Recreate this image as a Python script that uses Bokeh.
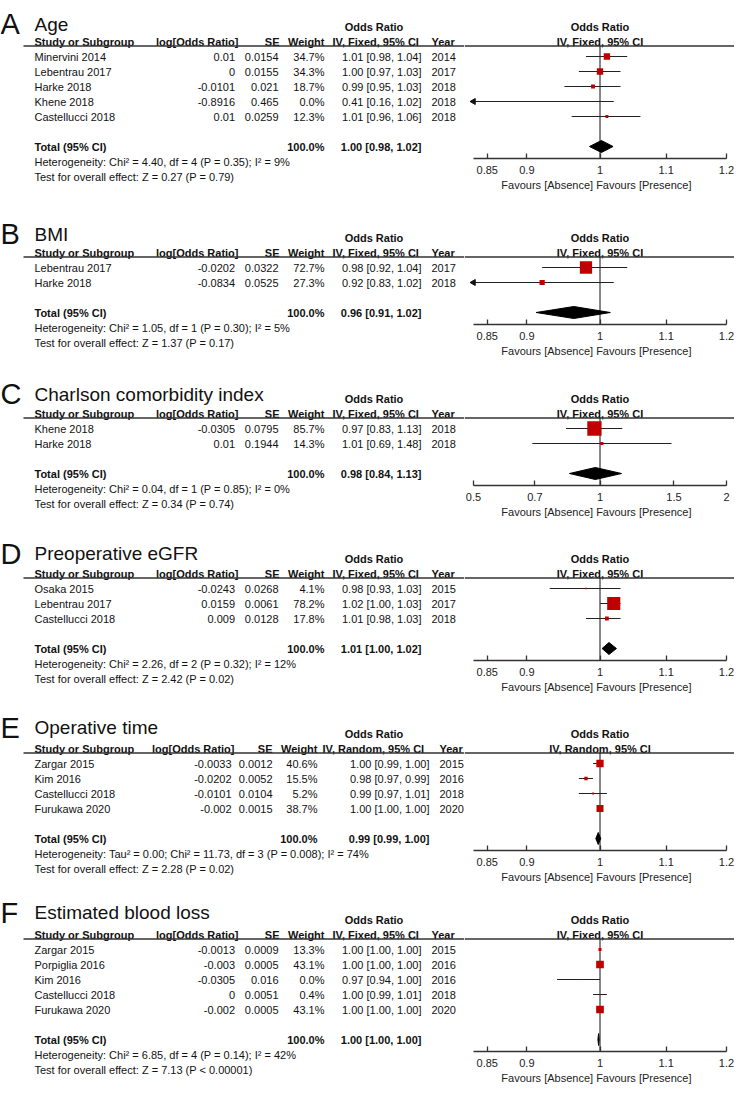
import math
from bokeh.plotting import figure
from bokeh.models import Range1d, FixedTicker, CustomJSTickFormatter
from bokeh.layouts import column, row
from bokeh.embed import file_html
from bokeh.resources import INLINE
from bokeh.core.properties import value

# ---------------- data ----------------
A_study = ["Minervini 2014", "Lebentrau 2017", "Harke 2018", "Khene 2018", "Castellucci 2018"]
A_log_or = [0.01, 0, -0.0101, -0.8916, 0.01]
A_se = [0.0154, 0.0155, 0.021, 0.465, 0.0259]
A_weight = [34.7, 34.3, 18.7, 0.0, 12.3]
A_or = [1.01, 1.00, 0.99, 0.41, 1.01]
A_lo = [0.98, 0.97, 0.95, 0.16, 0.96]
A_hi = [1.04, 1.03, 1.03, 1.02, 1.06]
A_year = [2014, 2017, 2018, 2018, 2018]
A_total = [1.00, 0.98, 1.02]
A_diamond = [1.002, 0.985, 1.019]
A_het = "Heterogeneity: Chi² = 4.40, df = 4 (P = 0.35); I² = 9%"
A_test = "Test for overall effect: Z = 0.27 (P = 0.79)"

B_study = ["Lebentrau 2017", "Harke 2018"]
B_log_or = [-0.0202, -0.0834]
B_se = [0.0322, 0.0525]
B_weight = [72.7, 27.3]
B_or = [0.98, 0.92]
B_lo = [0.92, 0.83]
B_hi = [1.04, 1.02]
B_year = [2017, 2018]
B_total = [0.96, 0.91, 1.02]
B_diamond = [0.963, 0.912, 1.015]
B_het = "Heterogeneity: Chi² = 1.05, df = 1 (P = 0.30); I² = 5%"
B_test = "Test for overall effect: Z = 1.37 (P = 0.17)"

C_study = ["Khene 2018", "Harke 2018"]
C_log_or = [-0.0305, 0.01]
C_se = [0.0795, 0.1944]
C_weight = [85.7, 14.3]
C_or = [0.97, 1.01]
C_lo = [0.83, 0.69]
C_hi = [1.13, 1.48]
C_year = [2018, 2018]
C_total = [0.98, 0.84, 1.13]
C_diamond = [0.975, 0.846, 1.125]
C_het = "Heterogeneity: Chi² = 0.04, df = 1 (P = 0.85); I² = 0%"
C_test = "Test for overall effect: Z = 0.34 (P = 0.74)"

D_study = ["Osaka 2015", "Lebentrau 2017", "Castellucci 2018"]
D_log_or = [-0.0243, 0.0159, 0.009]
D_se = [0.0268, 0.0061, 0.0128]
D_weight = [4.1, 78.2, 17.8]
D_or = [0.98, 1.02, 1.01]
D_lo = [0.93, 1.00, 0.98]
D_hi = [1.03, 1.03, 1.03]
D_year = [2015, 2017, 2018]
D_total = [1.01, 1.00, 1.02]
D_diamond = [1.013, 1.003, 1.024]
D_het = "Heterogeneity: Chi² = 2.26, df = 2 (P = 0.32); I² = 12%"
D_test = "Test for overall effect: Z = 2.42 (P = 0.02)"

E_study = ["Zargar 2015", "Kim 2016", "Castellucci 2018", "Furukawa 2020"]
E_log_or = [-0.0033, -0.0202, -0.0101, -0.002]
E_se = [0.0012, 0.0052, 0.0104, 0.0015]
E_weight = [40.6, 15.5, 5.2, 38.7]
E_or = [1.00, 0.98, 0.99, 1.00]
E_lo = [0.99, 0.97, 0.97, 1.00]
E_hi = [1.00, 0.99, 1.01, 1.00]
E_year = [2015, 2016, 2018, 2020]
E_total = [0.99, 0.99, 1.00]
E_diamond = [0.9975, 0.994, 1.001]
E_het = "Heterogeneity: Tau² = 0.00; Chi² = 11.73, df = 3 (P = 0.008); I² = 74%"
E_test = "Test for overall effect: Z = 2.28 (P = 0.02)"

F_study = ["Zargar 2015", "Porpiglia 2016", "Kim 2016", "Castellucci 2018", "Furukawa 2020"]
F_log_or = [-0.0013, -0.003, -0.0305, 0, -0.002]
F_se = [0.0009, 0.0005, 0.016, 0.0051, 0.0005]
F_weight = [13.3, 43.1, 0.0, 0.4, 43.1]
F_or = [1.00, 1.00, 0.97, 1.00, 1.00]
F_lo = [1.00, 1.00, 0.94, 0.99, 1.00]
F_hi = [1.00, 1.00, 1.00, 1.01, 1.00]
F_year = [2015, 2016, 2016, 2018, 2020]
F_total = [1.00, 1.00, 1.00]
F_diamond = [0.998, 0.997, 0.9988]
F_het = "Heterogeneity: Chi² = 6.85, df = 4 (P = 0.14); I² = 42%"
F_test = "Test for overall effect: Z = 7.13 (P < 0.00001)"

TICKS_STD = [0.85, 0.9, 1, 1.1, 1.2]
TICKS_C = [0.5, 0.7, 1, 1.5, 2]
BOUNDS_STD = (1 / 1.2, 1.2)
BOUNDS_C = (0.5, 2)
AXIS_LABEL = "Favours [Absence]   Favours [Presence]"

# ---------------- style / layout ----------------
FONT = "Liberation Sans"
TXT = "#111111"
RED = "#C00000"
LINE = "#333333"

W_L, W_R = 464, 270
PX_LO, PX_HI = 9, 262          # where the axis bounds sit inside the forest figure
ROW = 15.0
HEIGHTS = [210, 160, 160, 174, 185, 199]
Y0S = [41, 42, 43, 43, 44, 45]
BASES = [-17.5, -18.4, -19.3, -20.0, -21.0, -22.0]
LINE_R = 4.5 / ROW

COLS = dict(logor_h=238, logor_v=234.5, se_h=279, se_v=278, wt=324,
            or_h=332, or_v=421, yr=431, odds_c=373.5)
COLS_E = dict(logor_h=234, logor_v=231, se_h=272, se_v=272, wt=317,
              or_h=322, or_v=429, yr=439, odds_c=373.5)

panels = [
    dict(letter="A", title="Age", study=A_study, log_or=A_log_or, se=A_se, weight=A_weight,
         odds=A_or, lo=A_lo, hi=A_hi, year=A_year, total=A_total, diamond=A_diamond,
         het=A_het, test=A_test,
         method="IV, Fixed, 95% CI", ticks=TICKS_STD, bounds=BOUNDS_STD, cols=COLS),
    dict(letter="B", title="BMI", study=B_study, log_or=B_log_or, se=B_se, weight=B_weight,
         odds=B_or, lo=B_lo, hi=B_hi, year=B_year, total=B_total, diamond=B_diamond,
         het=B_het, test=B_test,
         method="IV, Fixed, 95% CI", ticks=TICKS_STD, bounds=BOUNDS_STD, cols=COLS),
    dict(letter="C", title="Charlson comorbidity index", study=C_study, log_or=C_log_or, se=C_se,
         weight=C_weight, odds=C_or, lo=C_lo, hi=C_hi, year=C_year, total=C_total,
         diamond=C_diamond, het=C_het,
         test=C_test, method="IV, Fixed, 95% CI", ticks=TICKS_C, bounds=BOUNDS_C, cols=COLS),
    dict(letter="D", title="Preoperative eGFR", study=D_study, log_or=D_log_or, se=D_se,
         weight=D_weight, odds=D_or, lo=D_lo, hi=D_hi, year=D_year, total=D_total,
         diamond=D_diamond, het=D_het,
         test=D_test, method="IV, Fixed, 95% CI", ticks=TICKS_STD, bounds=BOUNDS_STD, cols=COLS),
    dict(letter="E", title="Operative time", study=E_study, log_or=E_log_or, se=E_se,
         weight=E_weight, odds=E_or, lo=E_lo, hi=E_hi, year=E_year, total=E_total,
         diamond=E_diamond, het=E_het,
         test=E_test, method="IV, Random, 95% CI", ticks=TICKS_STD, bounds=BOUNDS_STD, cols=COLS_E),
    dict(letter="F", title="Estimated blood loss", study=F_study, log_or=F_log_or, se=F_se,
         weight=F_weight, odds=F_or, lo=F_lo, hi=F_hi, year=F_year, total=F_total,
         diamond=F_diamond, het=F_het,
         test=F_test, method="IV, Fixed, 95% CI", ticks=TICKS_STD, bounds=BOUNDS_STD, cols=COLS),
]


def put_text(p, xs, ys, texts, align="left", bold=False, size="11px", baseline="middle"):
    p.text(x=xs, y=ys, text=texts, text_align=align, text_baseline=baseline,
           text_font=value(FONT), text_font_size=size,
           text_font_style="bold" if bold else "normal", text_color=TXT)


def blank(p):
    p.grid.visible = False
    p.outline_line_color = None
    p.background_fill_color = "white"
    p.border_fill_color = "white"
    p.frame_align = False


def table_fig(P, H, Y0, base):
    n = len(P["study"])
    c = P["cols"]
    p = figure(width=W_L, height=H, x_range=Range1d(0, W_L),
               y_range=Range1d((H - Y0) / ROW, -Y0 / ROW),
               output_backend="svg", toolbar_location=None,
               min_border=0, min_border_left=0, min_border_right=0,
               min_border_top=0, min_border_bottom=0,
               x_axis_location=None, y_axis_location=None)
    blank(p)
    rows = [i + 1 for i in range(n)]
    bl = base / ROW
    put_text(p, [0], [bl], [P["letter"]], size="29px", baseline="alphabetic")
    put_text(p, [34], [bl], [P["title"]], size="19px", baseline="alphabetic")
    put_text(p, [c["odds_c"]], [-1], ["Odds Ratio"], align="center", bold=True)
    put_text(p, [34], [0], ["Study or Subgroup"], bold=True)
    put_text(p, [c["logor_h"]], [0], ["log[Odds Ratio]"], align="right", bold=True)
    put_text(p, [c["se_h"]], [0], ["SE"], align="right", bold=True)
    put_text(p, [c["wt"]], [0], ["Weight"], align="right", bold=True)
    put_text(p, [c["or_h"]], [0], [P["method"]], bold=True)
    put_text(p, [c["yr"]], [0], ["Year"], bold=True)
    p.segment(x0=[23], y0=[LINE_R], x1=[W_L], y1=[LINE_R], line_color=LINE, line_width=1.3)

    put_text(p, [34] * n, rows, P["study"])
    put_text(p, [c["logor_v"]] * n, rows, [f"{v:g}" for v in P["log_or"]], align="right")
    put_text(p, [c["se_v"]] * n, rows, [f"{v:g}" for v in P["se"]], align="right")
    put_text(p, [c["wt"]] * n, rows, [f"{w:.1f}%" for w in P["weight"]], align="right")
    put_text(p, [c["or_v"]] * n, rows,
             [f"{o:.2f} [{l:.2f}, {h:.2f}]" for o, l, h in zip(P["odds"], P["lo"], P["hi"])],
             align="right")
    put_text(p, [c["yr"]] * n, rows, [str(y) for y in P["year"]])

    rt = n + 2
    est, tlo, thi = P["total"]
    put_text(p, [34], [rt], ["Total (95% CI)"], bold=True)
    put_text(p, [c["wt"]], [rt], ["100.0%"], align="right", bold=True)
    put_text(p, [c["or_v"]], [rt], [f"{est:.2f} [{tlo:.2f}, {thi:.2f}]"], align="right", bold=True)
    put_text(p, [34], [rt + 1.05], [P["het"]])
    put_text(p, [34], [rt + 2.05], [P["test"]])
    return p


def forest_fig(P, H, Y0):
    n = len(P["study"])
    axis_px = Y0 + int(ROW * (n + 2)) + 12
    b_lo, b_hi = P["bounds"]
    k = (PX_HI - PX_LO) / math.log(b_hi / b_lo)
    xr = Range1d(b_lo * math.exp(-PX_LO / k), b_hi * math.exp((W_R - PX_HI) / k))
    r_axis = (axis_px - Y0) / ROW
    p = figure(width=W_R, height=H, x_axis_type="log", x_range=xr,
               y_range=Range1d(r_axis, -Y0 / ROW),
               output_backend="svg", toolbar_location=None,
               min_border=0, min_border_left=0, min_border_right=0,
               min_border_top=0, min_border_bottom=H - axis_px,
               y_axis_location=None)
    blank(p)
    rows = [i + 1 for i in range(n)]

    # header
    put_text(p, [1], [-1], ["Odds Ratio"], align="center", bold=True)
    put_text(p, [1], [0], [P["method"]], align="center", bold=True)
    p.segment(x0=[xr.start], y0=[LINE_R], x1=[xr.end], y1=[LINE_R], line_color=LINE, line_width=1.3)
    # line of no effect
    p.segment(x0=[1], y0=[LINE_R], x1=[1], y1=[r_axis], line_color="#111111", line_width=1)

    # confidence intervals
    x0 = [max(l, b_lo) for l in P["lo"]]
    x1 = [min(h, b_hi) for h in P["hi"]]
    p.segment(x0=x0, y0=rows, x1=x1, y1=rows, line_color="#222222", line_width=1)
    arr = [r for r, l in zip(rows, P["lo"]) if l < b_lo]
    if arr:
        p.scatter(x=[b_lo] * len(arr), y=arr, marker="triangle", angle=math.pi / 2,
                  size=6, fill_color="#111111", line_color="#111111")
    # study squares (size follows weight)
    sizes = [1 + 0.155 * w for w in P["weight"]]
    p.scatter(x=P["odds"], y=rows, marker="square", size=sizes,
              fill_color=RED, line_color=None)

    # pooled diamond
    est, tlo, thi = P["diamond"]
    rt = n + 2
    p.patches(xs=[[tlo, est, thi, est]], ys=[[rt, rt - 0.4, rt, rt + 0.4]],
              fill_color="black", line_color="black", line_width=1)

    ax = p.xaxis[0]
    ax.ticker = FixedTicker(ticks=P["ticks"], minor_ticks=[])
    ax.formatter = CustomJSTickFormatter(code="return tick.toString();")
    ax.bounds = (b_lo, b_hi)
    ax.major_tick_in = 5
    ax.major_tick_out = 0
    ax.minor_tick_in = 0
    ax.minor_tick_out = 0
    ax.axis_line_color = LINE
    ax.axis_line_width = 1.3
    ax.major_tick_line_color = LINE
    ax.major_tick_line_width = 1.3
    ax.major_label_text_font = FONT
    ax.major_label_text_font_size = "11px"
    ax.major_label_text_color = "#222222"
    ax.major_label_standoff = 7
    ax.axis_label = AXIS_LABEL
    ax.axis_label_text_font = FONT
    ax.axis_label_text_font_size = "11px"
    ax.axis_label_text_font_style = "normal"
    ax.axis_label_text_color = "#222222"
    ax.axis_label_standoff = 2
    return p


rows_layout = []
for P, H, Y0, base in zip(panels, HEIGHTS, Y0S, BASES):
    rows_layout.append(row(table_fig(P, H, Y0, base), forest_fig(P, H, Y0)))

layout = column(*rows_layout)
open("out.html", "w").write(file_html(layout, INLINE))
